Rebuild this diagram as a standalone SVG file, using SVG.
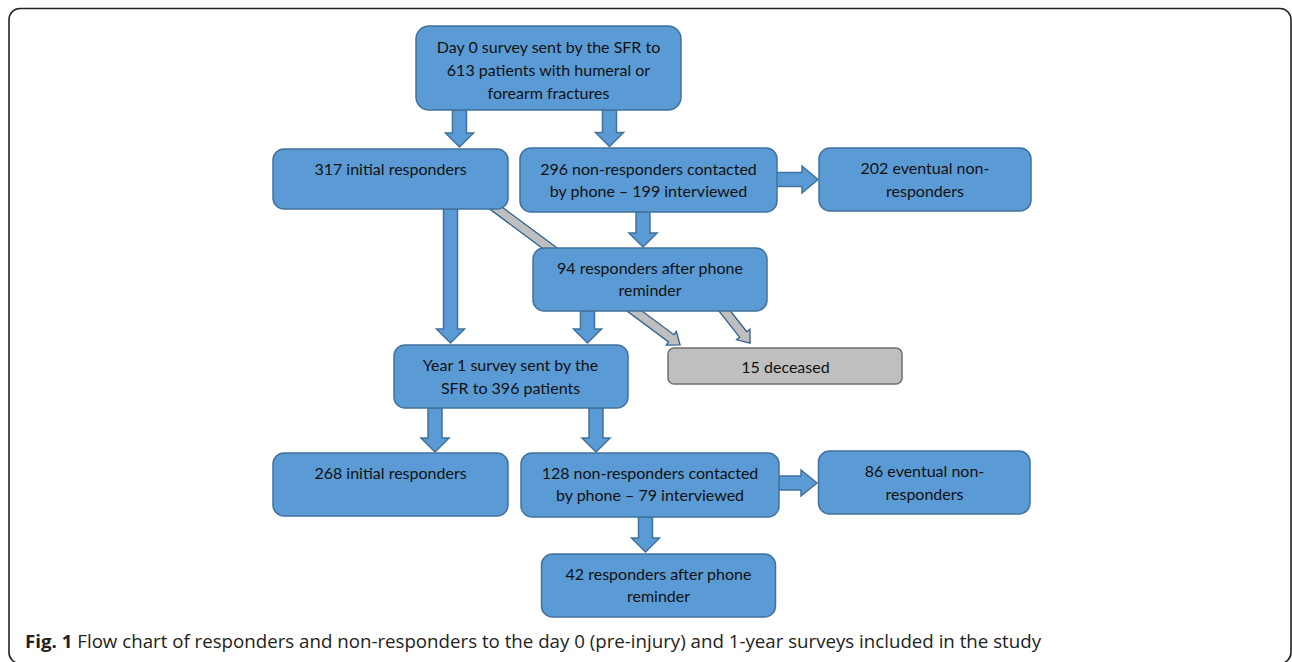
<svg xmlns="http://www.w3.org/2000/svg" width="1292" height="662" viewBox="0 0 1292 662">
<style>
.box{fill:#5B9BD5;stroke:#41719C;stroke-width:1.5}
.gbox{fill:#BFBFBF;stroke:#6F6F6F;stroke-width:1.5}
.arr{fill:#5B9BD5;stroke:#41719C;stroke-width:1.5;stroke-linejoin:miter}
.garr{fill:#BFBFBF;stroke:#2F5F8F;stroke-width:1.3;stroke-linejoin:miter}
.t{font-family:Lato,"Liberation Sans",sans-serif;font-size:16px;fill:#111;text-anchor:middle}
.cap{font-family:"Open Sans","Liberation Sans",sans-serif;font-size:18px;fill:#222}
</style>
<rect x="9" y="8.5" width="1282" height="655" rx="11" fill="none" stroke="#222" stroke-width="1.6"/>
<g id="connectors">
<g transform="translate(485,200) rotate(36.6)"><path class="garr" d="M0,-4.5 H232 V-8.5 L243,0 L232,8.5 V4.5 H0 Z"/></g>
<g transform="translate(716,300) rotate(51.7)"><path class="garr" d="M0,-4.5 H44 V-8.5 L55,0 L44,8.5 V4.5 H0 Z"/></g>
<path class="arr" d="M452.5,110 V133 H445.5 L459.5,147 L473.5,133 H466.5 V110 Z"/>
<path class="arr" d="M602.5,110 V132.5 H595.5 L609.5,146.5 L623.5,132.5 H616.5 V110 Z"/>
<path class="arr" d="M443.5,209 V329 H436.5 L450.5,343 L464.5,329 H457.5 V209 Z"/>
<path class="arr" d="M636,212 V233 H629 L643,247 L657,233 H650 V212 Z"/>
<path class="arr" d="M580.5,311 V329 H573.5 L587.5,343 L601.5,329 H594.5 V311 Z"/>
<path class="arr" d="M428,408 V438 H421 L435,452 L449,438 H442 V408 Z"/>
<path class="arr" d="M589,408 V438 H582 L596,452 L610,438 H603 V408 Z"/>
<path class="arr" d="M638.5,517 V538 H631.5 L645.5,552 L659.5,538 H652.5 V517 Z"/>
<path class="arr" d="M776,172.5 H802 V166 L818,179.5 L802,193 V186.5 H776 Z"/>
<path class="arr" d="M779,476 H801 V470 L817,483 L801,496 V490 H779 Z"/>
</g>
<g id="n-day0"><rect class="box" x="416" y="26" width="265" height="84" rx="13"/>
<text class="t" x="548.5" y="52.5">Day 0 survey sent by the SFR to</text>
<text class="t" x="548.5" y="75.5">613 patients with humeral or</text>
<text class="t" x="548.5" y="98.5">forearm fractures</text></g>
<g id="n-317"><rect class="box" x="273" y="149" width="235" height="60" rx="11"/>
<text class="t" x="390.5" y="175">317 initial responders</text></g>
<g id="n-296"><rect class="box" x="520" y="148" width="257" height="64" rx="11"/>
<text class="t" x="648.5" y="175">296 non-responders contacted</text>
<text class="t" x="648.5" y="197">by phone – 199 interviewed</text></g>
<g id="n-202"><rect class="box" x="819" y="148" width="212" height="63" rx="11"/>
<text class="t" x="925" y="174">202 eventual non-</text>
<text class="t" x="925" y="196.5">responders</text></g>
<g id="n-94"><rect class="box" x="533" y="248" width="234" height="63" rx="11"/>
<text class="t" x="650" y="273.5">94 responders after phone</text>
<text class="t" x="650" y="296">reminder</text></g>
<g id="n-deceased"><rect class="gbox" x="668" y="348" width="234" height="36" rx="6"/>
<text class="t" x="785.5" y="372.5">15 deceased</text></g>
<g id="n-year1"><rect class="box" x="394" y="345" width="234" height="63" rx="11"/>
<text class="t" x="510.5" y="371">Year 1 survey sent by the</text>
<text class="t" x="510.5" y="393.5">SFR to 396 patients</text></g>
<g id="n-268"><rect class="box" x="273" y="453" width="235" height="63" rx="11"/>
<text class="t" x="390.5" y="478.5">268 initial responders</text></g>
<g id="n-128"><rect class="box" x="521" y="453" width="258" height="64" rx="11"/>
<text class="t" x="650" y="478.5">128 non-responders contacted</text>
<text class="t" x="650" y="501">by phone – 79 interviewed</text></g>
<g id="n-86"><rect class="box" x="818.5" y="451" width="211.5" height="63" rx="11"/>
<text class="t" x="924.5" y="477">86 eventual non-</text>
<text class="t" x="924.5" y="499.5">responders</text></g>
<g id="n-42"><rect class="box" x="541.5" y="554" width="234" height="63" rx="11"/>
<text class="t" x="658.5" y="579.5">42 responders after phone</text>
<text class="t" x="658.5" y="601.5">reminder</text></g>
<text class="cap" x="25" y="648" textLength="1016" lengthAdjust="spacingAndGlyphs"><tspan font-weight="bold">Fig. 1</tspan> Flow chart of responders and non-responders to the day 0 (pre-injury) and 1-year surveys included in the study</text>
</svg>
